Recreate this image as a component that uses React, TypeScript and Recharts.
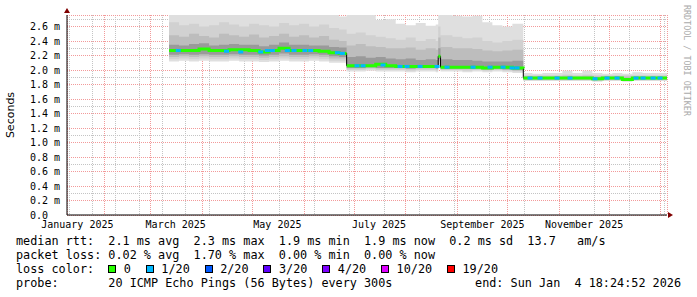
import React from "react";
import {
  ComposedChart,
  Area,
  Line,
  Scatter,
  XAxis,
  YAxis,
  CartesianGrid,
} from "recharts";

// time axis is in days since 2025-01-01 00:00, graph covers 360 days
const START = 8.77;
const END = 368.77;
const Y_MAX = 2.76;

const MONO = '"DejaVu Sans Mono", monospace';

const monthLabels = [
  "January 2025",
  "March 2025",
  "May 2025",
  "July 2025",
  "September 2025",
  "November 2025",
];
const monthLabelDays = [15, 74, 135, 196, 258, 319];
const monthStartDays = [31, 59, 90, 120, 151, 181, 212, 243, 273, 304, 334, 365];
const weekDays = Array.from({ length: 52 }, (_, k) => 10 + 7 * k);
const rttTicks = [0, 0.2, 0.4, 0.6, 0.8, 1.0, 1.2, 1.4, 1.6, 1.8, 2.0, 2.2, 2.4, 2.6];
const rttMinorTicks = [
  0, 0.1, 0.2, 0.3, 0.4, 0.5, 0.6, 0.7, 0.8, 0.9, 1.0, 1.1, 1.2, 1.3, 1.4,
  1.5, 1.6, 1.7, 1.8, 1.9, 2.0, 2.1, 2.2, 2.3, 2.4, 2.5, 2.6, 2.7,
];

// sample days (segment ends and colour breaks included)
const days = [
  70, 76, 82, 88, 94, 100, 106, 112, 118, 124, 130, 136, 142, 148, 154, 160, 166, 172, 176.5,
  176.55, 176.6, 182, 188, 194, 200, 206, 212, 218, 224, 230, 231.45,
  231.5, 231.55, 232.85,
  232.9, 232.95, 240, 246, 252, 258, 264, 270, 276, 282.5,
  282.55, 282.6, 288, 294, 300, 306, 312, 318, 324, 330, 336, 342, 348, 354, 360, 366, 368.77,
];

// median rtt in ms
const median = [
  2.27, 2.27, 2.27, 2.29, 2.27, 2.27, 2.28, 2.28, 2.27, 2.25, 2.27, 2.3, 2.27, 2.27, 2.27, 2.26, 2.24, 2.23, 2.23,
  2.06, 2.06, 2.06, 2.06, 2.08, 2.06, 2.05, 2.05, 2.05, 2.05, 2.05, 2.05,
  2.19, 2.19, 2.19,
  2.04, 2.04, 2.04, 2.04, 2.04, 2.03, 2.04, 2.04, 2.03, 2.02,
  1.89, 1.89, 1.89, 1.89, 1.89, 1.89, 1.89, 1.89, 1.88, 1.89, 1.89, 1.87, 1.89, 1.89, 1.89, 1.89, 1.89,
];

// days where the loss-coloured median line is interrupted
const colorBreaks = [176.55, 231.5, 232.9, 282.55];

// smoke bands, outermost (b1) to innermost (b4)
const b1Hi = [
  2.76, 2.76, 2.76, 2.76, 2.76, 2.76, 2.76, 2.76, 2.76, 2.76, 2.76, 2.76, 2.76, 2.76, 2.76, 2.76, 2.76, 2.74, 2.74,
  2.76, 2.76, 2.76, 2.76, 2.69, 2.7, 2.64, 2.62, 2.65, 2.61, 2.63, 2.63,
  2.76, 2.76, 2.76,
  2.76, 2.76, 2.75, 2.74, 2.75, 2.66, 2.62, 2.6, 2.64, 2.64,
  1.96, 1.96, 1.95, 1.96, 1.96, 1.99, 1.96, 1.99, 1.96, 1.95, 1.96, 1.95, 1.97, 1.96, 1.96, 1.96, 1.96,
];
const b1Lo = [
  2.12, 2.13, 2.12, 2.13, 2.12, 2.12, 2.13, 2.12, 2.12, 2.11, 2.12, 2.13, 2.12, 2.12, 2.13, 2.12, 2.1, 2.1, 2.1,
  1.98, 1.98, 1.98, 1.99, 1.98, 1.98, 1.98, 1.97, 1.98, 1.98, 1.97, 1.97,
  2.03, 2.03, 2.03,
  1.98, 1.98, 1.98, 1.97, 1.98, 1.97, 1.98, 1.97, 1.96, 1.96,
  1.85, 1.85, 1.85, 1.85, 1.85, 1.85, 1.85, 1.85, 1.84, 1.85, 1.85, 1.84, 1.85, 1.85, 1.85, 1.85, 1.85,
];
const b2Hi = [
  2.66, 2.62, 2.64, 2.6, 2.62, 2.66, 2.63, 2.6, 2.64, 2.62, 2.6, 2.65, 2.62, 2.64, 2.6, 2.63, 2.58, 2.56, 2.56,
  2.5, 2.5, 2.52, 2.48, 2.46, 2.44, 2.42, 2.45, 2.4, 2.43, 2.4, 2.4,
  2.6, 2.6, 2.6,
  2.48, 2.48, 2.46, 2.44, 2.45, 2.4, 2.38, 2.4, 2.42, 2.42,
  1.93, 1.93, 1.93, 1.93, 1.93, 1.94, 1.93, 1.94, 1.93, 1.93, 1.93, 1.93, 1.93, 1.93, 1.93, 1.93, 1.93,
];
const b2Lo = [
  2.15, 2.16, 2.15, 2.16, 2.15, 2.15, 2.16, 2.15, 2.15, 2.14, 2.15, 2.16, 2.15, 2.15, 2.16, 2.15, 2.13, 2.13, 2.13,
  2.0, 2.0, 2.0, 2.01, 2.0, 2.0, 2.0, 1.99, 2.0, 2.0, 1.99, 1.99,
  2.08, 2.08, 2.08,
  2.0, 2.0, 2.0, 1.99, 2.0, 1.99, 2.0, 1.99, 1.98, 1.98,
  1.86, 1.86, 1.86, 1.86, 1.86, 1.86, 1.86, 1.86, 1.85, 1.86, 1.86, 1.85, 1.86, 1.86, 1.86, 1.86, 1.86,
];
const b3Hi = [
  2.48, 2.46, 2.5, 2.47, 2.45, 2.5, 2.48, 2.46, 2.49, 2.45, 2.47, 2.5, 2.46, 2.48, 2.45, 2.47, 2.42, 2.4, 2.4,
  2.34, 2.34, 2.36, 2.33, 2.32, 2.3, 2.3, 2.31, 2.28, 2.3, 2.28, 2.28,
  2.45, 2.45, 2.45,
  2.32, 2.32, 2.3, 2.3, 2.29, 2.27, 2.26, 2.27, 2.28, 2.28,
  1.915, 1.915, 1.915, 1.915, 1.915, 1.92, 1.915, 1.92, 1.915, 1.915, 1.915, 1.91, 1.915, 1.915, 1.915, 1.915, 1.915,
];
const b3Lo = [
  2.18, 2.19, 2.18, 2.19, 2.18, 2.18, 2.19, 2.18, 2.18, 2.17, 2.18, 2.19, 2.18, 2.18, 2.19, 2.18, 2.16, 2.16, 2.16,
  2.02, 2.02, 2.02, 2.03, 2.02, 2.02, 2.02, 2.01, 2.02, 2.02, 2.01, 2.01,
  2.12, 2.12, 2.12,
  2.01, 2.01, 2.01, 2.01, 2.01, 2.0, 2.01, 2.0, 1.99, 1.99,
  1.865, 1.865, 1.865, 1.865, 1.865, 1.865, 1.865, 1.865, 1.86, 1.865, 1.865, 1.855, 1.865, 1.865, 1.865, 1.865, 1.865,
];
const b4Hi = [
  2.35, 2.34, 2.36, 2.37, 2.34, 2.35, 2.36, 2.35, 2.35, 2.33, 2.35, 2.38, 2.35, 2.35, 2.34, 2.34, 2.32, 2.31, 2.31,
  2.18, 2.18, 2.19, 2.17, 2.18, 2.16, 2.15, 2.16, 2.14, 2.15, 2.14, 2.14,
  2.3, 2.3, 2.3,
  2.15, 2.15, 2.14, 2.14, 2.13, 2.12, 2.12, 2.12, 2.13, 2.12,
  1.9, 1.9, 1.9, 1.9, 1.9, 1.9, 1.9, 1.9, 1.895, 1.9, 1.9, 1.89, 1.9, 1.9, 1.9, 1.9, 1.9,
];
const b4Lo = [
  2.21, 2.22, 2.21, 2.22, 2.21, 2.21, 2.22, 2.21, 2.21, 2.2, 2.21, 2.23, 2.21, 2.21, 2.22, 2.21, 2.19, 2.18, 2.18,
  2.03, 2.03, 2.03, 2.04, 2.03, 2.03, 2.03, 2.02, 2.03, 2.03, 2.02, 2.02,
  2.15, 2.15, 2.15,
  2.02, 2.02, 2.02, 2.02, 2.02, 2.01, 2.02, 2.01, 2.0, 2.0,
  1.875, 1.875, 1.875, 1.875, 1.875, 1.875, 1.875, 1.875, 1.87, 1.875, 1.875, 1.86, 1.875, 1.875, 1.875, 1.875, 1.875,
];

// bins with 1/20 packet loss (blue median)
const lossDays = [
  75.5, 104.5, 113, 125, 129, 132, 141, 145, 151.5, 155, 171, 174,
  182.8, 186.4, 198.4, 208.6, 212.8, 220.6, 230.8,
  236.8, 252.4, 262.6, 270.4, 275.8, 278.8,
  286.6, 292.6, 302.8, 310.6, 325.6, 332.8, 338.8, 350.2, 354.4, 360.4, 364.6,
];
const lossRtt = [
  2.27, 2.26, 2.25, 2.25, 2.27, 2.27, 2.27, 2.27, 2.27, 2.27, 2.24, 2.23,
  2.06, 2.06, 2.07, 2.05, 2.05, 2.05, 2.05,
  2.04, 2.04, 2.04, 2.04, 2.03, 2.03,
  1.89, 1.89, 1.89, 1.89, 1.88, 1.89, 1.89, 1.89, 1.89, 1.89, 1.89,
];

const lossLabels = ["0", "1/20", "2/20", "3/20", "4/20", "10/20", "19/20"];
const lossColors = ["#26ff00", "#00b8ff", "#0059ff", "#5e00ff", "#7e00ff", "#dd00ff", "#ff0000"];

const band = (lo: (number | null)[], hi: (number | null)[], i: number) =>
  lo[i] == null || hi[i] == null ? null : [lo[i], hi[i]];

const rows = days.map((day, i) => ({
  day,
  med: median[i],
  green: colorBreaks.includes(day) ? null : median[i],
  s1: band(b1Lo, b1Hi, i),
  s2: band(b2Lo, b2Hi, i),
  s3: band(b3Lo, b3Hi, i),
  s4: band(b4Lo, b4Hi, i),
}));

const lossRows = lossDays.map((day, i) => ({ day, rtt: lossRtt[i] }));

const smoke = [
  { key: "s1", color: "#dfdfdf" },
  { key: "s2", color: "#d1d1d1" },
  { key: "s3", color: "#bdbdbd" },
  { key: "s4", color: "#9a9a9a" },
];

const legendLines = [
  "median rtt:  2.1 ms avg  2.3 ms max  1.9 ms min  1.9 ms now  0.2 ms sd  13.7   am/s",
  "packet loss: 0.02 % avg  1.70 % max  0.00 % min  0.00 % now",
];

function LossTick(props: any) {
  const { cx, cy } = props;
  if (cx == null || cy == null) return null;
  return <rect x={cx - 2.5} y={cy - 1.5} width={5} height={3} fill="#00b8ff" />;
}

function SecondsLabel(props: any) {
  const vb = props.viewBox || { x: 7, y: 15, width: 60, height: 200 };
  const x = vb.x + 3;
  const y = vb.y + vb.height / 2;
  return (
    <text
      x={x}
      y={y}
      transform={`rotate(-90, ${x}, ${y})`}
      textAnchor="middle"
      dominantBaseline="central"
      fontFamily='"DejaVu Sans", sans-serif'
      fontSize={11}
      fill="#000"
    >
      Seconds
    </text>
  );
}

export default function App() {
  const lineStyle: React.CSSProperties = {
    position: "absolute",
    left: 16,
    fontFamily: MONO,
    fontSize: 11.8,
    lineHeight: "14px",
    whiteSpace: "pre",
    color: "#000",
  };

  return (
    <div
      style={{
        position: "absolute",
        left: 0,
        top: 0,
        width: 697,
        height: 297,
        background: "#fff",
        overflow: "hidden",
      }}
    >
      <ComposedChart
        width={697}
        height={297}
        data={rows}
        margin={{ top: 15, right: 30, bottom: 52, left: 7 }}
      >
        <XAxis
          xAxisId="t"
          type="number"
          dataKey="day"
          domain={[START, END]}
          allowDataOverflow
          ticks={monthLabelDays}
          interval={0}
          tickFormatter={(v: number) => monthLabels[monthLabelDays.indexOf(v)] ?? ""}
          tickLine={false}
          tickSize={0}
          tickMargin={6}
          height={30}
          axisLine={{ stroke: "#000" }}
          tick={{ fontFamily: MONO, fontSize: 10, fill: "#000" }}
        />
        <XAxis xAxisId="wk" type="number" dataKey="day" domain={[START, END]} allowDataOverflow ticks={weekDays} height={0} hide />
        <XAxis xAxisId="mo" type="number" dataKey="day" domain={[START, END]} allowDataOverflow ticks={monthStartDays} height={0} hide />
        <YAxis
          yAxisId="v"
          type="number"
          domain={[0, Y_MAX]}
          allowDataOverflow
          ticks={rttTicks}
          interval={0}
          width={60}
          tickFormatter={(v: number) => (v === 0 ? "0.0\u00a0\u00a0" : `${v.toFixed(1)} m`)}
          tickLine={false}
          tickSize={0}
          tickMargin={7}
          axisLine={{ stroke: "#000" }}
          tick={{ fontFamily: MONO, fontSize: 10, fill: "#000" }}
          label={<SecondsLabel />}
        />
        <YAxis yAxisId="vm" type="number" domain={[0, Y_MAX]} allowDataOverflow ticks={rttMinorTicks} width={0} hide />

        {smoke.map((s) => (
          <Area
            key={s.key}
            xAxisId="t"
            yAxisId="v"
            type="stepAfter"
            dataKey={s.key}
            stroke="none"
            fill={s.color}
            fillOpacity={1}
            dot={false}
            activeDot={false}
            isAnimationActive={false}
          />
        ))}

        <CartesianGrid
          xAxisId="wk"
          yAxisId="vm"
          stroke="#c4c4c4"
          strokeDasharray="1 1"
          shapeRendering="crispEdges"
        />
        <CartesianGrid
          xAxisId="mo"
          yAxisId="v"
          stroke="#f29a9a"
          strokeDasharray="1 1"
          shapeRendering="crispEdges"
        />

        <Line
          xAxisId="t"
          yAxisId="v"
          type="stepAfter"
          dataKey="med"
          stroke="#000"
          strokeWidth={1}
          dot={false}
          activeDot={false}
          isAnimationActive={false}
        />
        <Line
          xAxisId="t"
          yAxisId="v"
          type="stepAfter"
          dataKey="green"
          stroke="#26ff00"
          strokeWidth={3}
          dot={false}
          activeDot={false}
          isAnimationActive={false}
        />
        <Scatter
          xAxisId="t"
          yAxisId="v"
          data={lossRows}
          dataKey="rtt"
          shape={<LossTick />}
          isAnimationActive={false}
        />
      </ComposedChart>

      <svg
        width={697}
        height={297}
        style={{ position: "absolute", left: 0, top: 0, pointerEvents: "none" }}
      >
        <polygon points="67,8 64,13 70,13" fill="#800000" />
        <polygon points="673,215 668,212 668,218" fill="#800000" />
        <text
          transform="translate(683.5,5) rotate(90)"
          fontFamily={MONO}
          fontSize={8.4}
          fill="#aaaaaa"
        >
          RRDTOOL / TOBI OETIKER
        </text>
      </svg>

      <div style={{ ...lineStyle, top: 233.5 }}>{legendLines[0]}</div>
      <div style={{ ...lineStyle, top: 247.5 }}>{legendLines[1]}</div>
      <div style={{ ...lineStyle, top: 261.5, display: "flex", alignItems: "center" }}>
        <span>{"loss color:  "}</span>
        {lossLabels.map((l, i) => (
          <span key={l} style={{ display: "inline-flex", alignItems: "center", marginRight: 14.9 }}>
            <span
              style={{
                display: "inline-block",
                width: 6,
                height: 6,
                border: "1px solid #000",
                background: lossColors[i],
                marginRight: 7.5,
              }}
            />
            <span>{l}</span>
          </span>
        ))}
      </div>
      <div style={{ ...lineStyle, top: 276 }}>
        {"probe:       20 ICMP Echo Pings (56 Bytes) every 300s"}
      </div>
      <div style={{ ...lineStyle, top: 276, left: "auto", right: 16 }}>
        {"end: Sun Jan  4 18:24:52 2026"}
      </div>
    </div>
  );
}
